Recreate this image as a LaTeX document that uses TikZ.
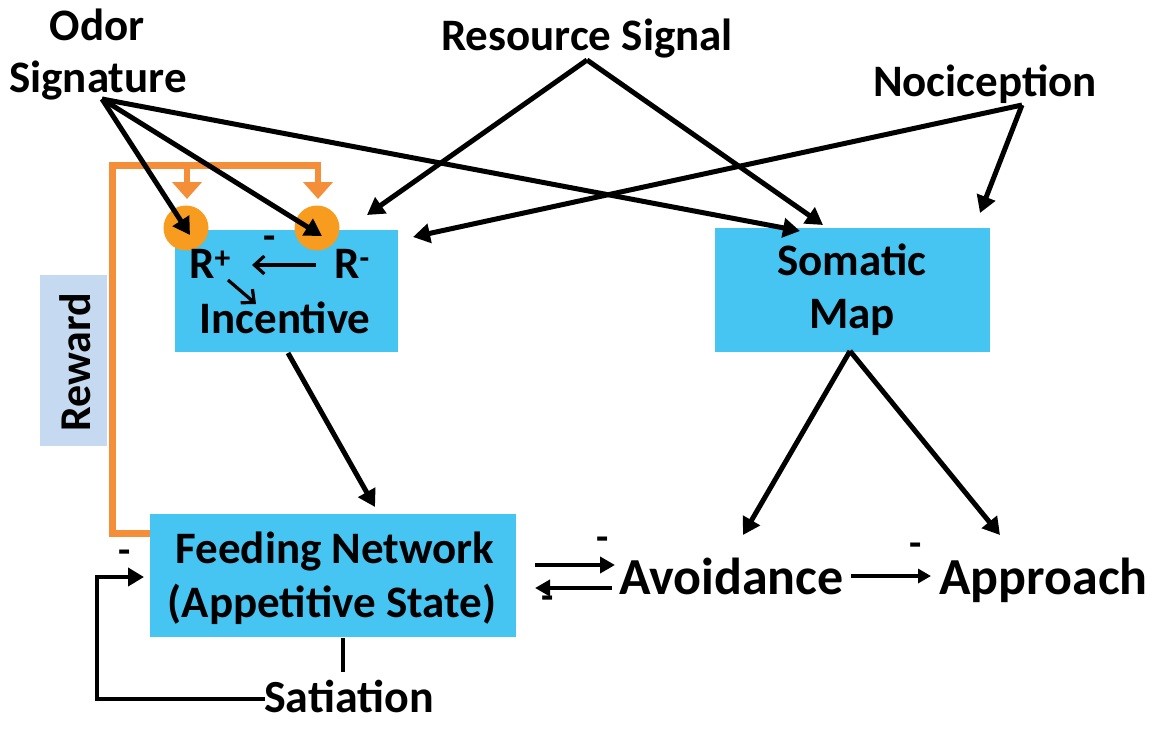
\documentclass[tikz,border=0pt]{standalone}
\usepackage{fontspec}
\setmainfont{Carlito}
\usetikzlibrary{arrows.meta}
\definecolor{boxblue}{RGB}{70,197,242}
\definecolor{rewardblue}{RGB}{197,217,240}
\definecolor{orline}{RGB}{244,142,56}
\definecolor{orcirc}{RGB}{247,156,30}
\begin{document}
\begin{tikzpicture}[x=1pt,y=-1pt,
  lbl/.style={font=\fontsize{45}{54}\selectfont\bfseries, inner sep=0pt, anchor=base},
  big/.style={font=\fontsize{52}{60}\selectfont\bfseries, inner sep=0pt, anchor=base west},
  minus/.style={font=\fontsize{40}{44}\selectfont\bfseries, inner sep=0pt},
  bluebox/.style={fill=boxblue, draw=none, inner sep=0pt},
  conn/.style={line width=5pt, -{Triangle[length=17pt,width=19pt]}},
  thinconn/.style={line width=4.2pt, -{Triangle[length=15pt,width=16pt]}},
  barb/.style={line width=3.2pt, -{Straight Barb[length=10pt,width=18pt,line width=3.2pt]}},
  orangeline/.style={draw=orline, line width=7pt},
  orangearr/.style={draw=orline, line width=5.5pt, -{Triangle[length=17pt,width=29pt,fill=orline]}},
  plain/.style={line width=4.6pt}
]
\useasboundingbox (0,0) rectangle (1160,729);

% boxes
\node[bluebox, minimum width=223pt, minimum height=122pt] (inc) at (286.5,291) {};
\node[bluebox, minimum width=275pt, minimum height=124pt] (som) at (852.5,290) {};
\node[bluebox, minimum width=366pt, minimum height=123pt] (feed) at (333,575.5) {};
\node[fill=rewardblue, inner sep=0pt, minimum width=67pt, minimum height=171pt] (rew) at (73.5,360.5) {};
\node[font=\fontsize{44}{48}\selectfont\bfseries, rotate=90, inner sep=0pt] (rewT) at (75,362) {Reward};

% orange reward line
\coordinate (oA) at (150,533);
\coordinate (oB) at (112,533);
\coordinate (oC) at (112,165);
\coordinate (oD) at (321,165);
\draw[orangeline] (oA) -- (oB) -- (oC) -- (oD);
\coordinate (oL1) at (187,163);
\coordinate (oL2) at (187,199);
\coordinate (oR1) at (318,163);
\coordinate (oR2) at (318,199);
\draw[orangearr] (oL1) -- (oL2);
\draw[orangearr] (oR1) -- (oR2);

% receptor circles
\node[circle, fill=orcirc, minimum size=45pt, inner sep=0pt] (cL) at (186,228) {};
\node[circle, fill=orcirc, minimum size=45pt, inner sep=0pt] (cR) at (317,228) {};

% texts
\node[lbl] (odor1) at (97,40) {Odor};
\node[lbl] (odor2) at (98,92) {Signature};
\node[lbl] (res) at (587,50) {Resource Signal};
\node[lbl] (noc) at (985,96) {Nociception};
\node[lbl] (incT) at (285,333) {Incentive};
\node[lbl, anchor=base west] (Rp) at (189,278) {R\textsuperscript{+}};
\node[lbl, anchor=base west] (Rm) at (334,278) {R\textsuperscript{-}};
\node[minus] (mR) at (270,243) {-};
\node[lbl] (som1) at (852,275) {Somatic};
\node[lbl] (som2) at (852,328) {Map};
\node[lbl] (feed1) at (335,563) {Feeding Network};
\node[lbl] (feed2) at (332,617) {(Appetitive State)};
\node[lbl, font=\fontsize{46}{54}\selectfont\bfseries] (sat) at (349,712) {Satiation};
\node[big] (avoid) at (619,594) {Avoidance};
\node[big] (appr) at (939,594) {Approach};
\node[minus] (m1) at (603,544) {-};
\node[minus] (m2) at (548,603) {-};
\node[minus] (m3) at (916,550) {-};
\node[minus] (m4) at (125,557) {-};

% source and tip coordinates
\coordinate (os) at (102,99);
\coordinate (rs) at (587,60);
\coordinate (ns) at (1022,105);
\coordinate (tOL) at (190,235);
\coordinate (tOR) at (322,236);
\coordinate (tOS) at (800,231);
\coordinate (tRI) at (367,215);
\coordinate (tRS) at (823,225);
\coordinate (tNI) at (413,237);
\coordinate (tNS) at (980,213);

\draw[conn] (os) -- (tOL);
\draw[conn] (os) -- (tOR);
\draw[conn] (os) -- (tOS);
\draw[conn] (rs) -- (tRI);
\draw[conn] (rs) -- (tRS);
\draw[conn] (ns) -- (tNI);
\draw[conn] (ns) -- (tNS);

% inside incentive
\coordinate (rmA) at (316,265);
\coordinate (rpA) at (252,265);
\draw[barb] (rmA) -- (rpA);
\coordinate (rpB) at (228,280);
\coordinate (incB) at (256,304);
\draw[barb] (rpB) -- (incB);

% incentive -> feeding
\coordinate (incS) at (288,353);
\coordinate (feedN) at (375,507);
\draw[conn] (incS) -- (feedN);

% somatic -> avoidance / approach
\coordinate (somS) at (850,351);
\coordinate (tAv) at (743,535);
\coordinate (tAp) at (1000,535);
\draw[conn] (somS) -- (tAv);
\draw[conn] (somS) -- (tAp);

% feeding <-> avoidance
\coordinate (fa1) at (535,565);
\coordinate (fa2) at (615,565);
\coordinate (af1) at (612,588);
\coordinate (af2) at (535,588);
\draw[thinconn] (fa1) -- (fa2);
\draw[thinconn] (af1) -- (af2);

% avoidance -> approach
\coordinate (aa1) at (851,576);
\coordinate (aa2) at (931,576);
\draw[line width=3.4pt, -{Triangle[length=13pt,width=14pt]}] (aa1) -- (aa2);

% satiation
\coordinate (s1) at (343,638);
\coordinate (s2) at (343,672);
\draw[plain] (s1) -- (s2);
\coordinate (sl1) at (265,699);
\coordinate (sl2) at (97,699);
\coordinate (sl3) at (97,577);
\coordinate (sl4) at (144,577);
\draw[line width=4.6pt, -{Triangle[length=16pt,width=18pt]}] (sl1) -- (sl2) -- (sl3) -- (sl4);
\end{tikzpicture}
\end{document}
